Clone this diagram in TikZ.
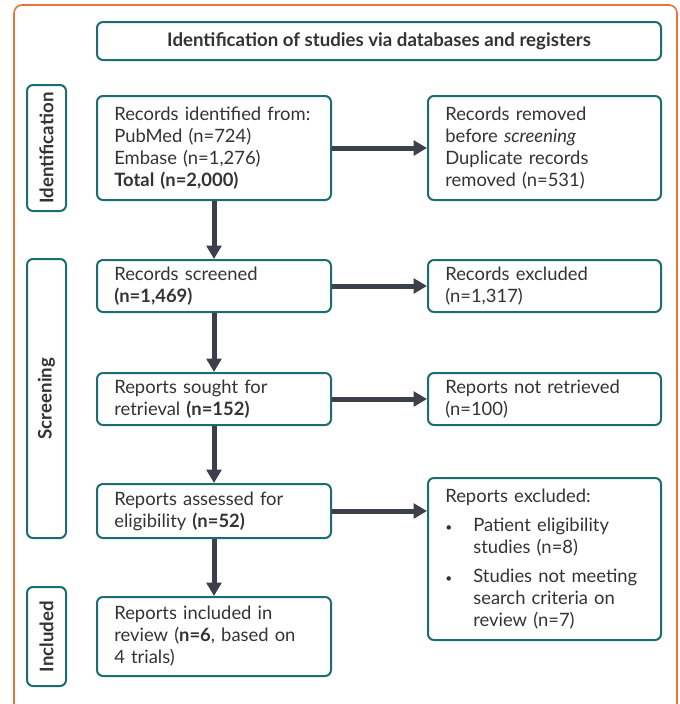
\documentclass[tikz,border=0pt]{standalone}
\usepackage{fontspec}
\setmainfont{Lato}
\usetikzlibrary{arrows.meta}
\definecolor{teal}{HTML}{1B6D72}
\definecolor{frame}{HTML}{E8743B}
\definecolor{ink}{HTML}{333333}
\definecolor{arrowgray}{HTML}{3B404B}
\newcommand{\bul}[1]{\par\noindent\hangindent=21pt\hangafter=1\makebox[21pt][l]{\fontsize{9}{9}\selectfont\textbullet}#1\par}

\begin{document}
\begin{tikzpicture}[x=0.75pt,y=-0.75pt]
\tikzset{boite/.style={draw=teal, line width=1.5pt, rounded corners=4.5pt, text=ink,
    font=\fontsize{13.8}{16.5}\selectfont, align=left, inner xsep=13pt},
  gauche/.style={boite, minimum width=175.5pt, text width=149.5pt},
  droite/.style={boite, minimum width=174.75pt, text width=148.75pt},
  phase/.style={draw=teal, line width=1.5pt, rounded corners=4.5pt, text=ink,
    font=\fontsize{14}{16}\selectfont\bfseries, rotate=90, minimum height=29.25pt, inner sep=0pt},
  fleche/.style={draw=arrowgray, line width=3.75pt, -{Triangle[width=11pt,length=10pt]}}}
\clip (0,0) rectangle (679,704);
\draw[frame, line width=1.2pt, rounded corners=6pt] (14,5) rectangle (677,730);
\node[boite, minimum width=423pt, minimum height=28.5pt, align=center, font=\fontsize{14}{16}\selectfont\bfseries] (T) at (379,41) {Identification of studies via databases and registers};
\node[phase, minimum width=94.5pt] (P1) at (46.5,148) {Identification};
\node[phase, minimum width=209.25pt] (P2) at (46.5,398.5) {Screening};
\node[phase, minimum width=74.25pt] (P3) at (46.5,636.5) {Included};
\node[gauche, minimum height=78pt] (G1) at (214,148) {Records identified from:\\PubMed (n=724)\\Embase (n=1,276)\\\textbf{Total (n=2,000)}};
\node[gauche, minimum height=39pt] (G2) at (214,286) {Records screened\\\textbf{(n=1,469)}};
\node[gauche, minimum height=39pt] (G3) at (214,399) {Reports sought for\\retrieval \textbf{(n=152)}};
\node[gauche, minimum height=40.5pt] (G4) at (214,511) {Reports assessed for\\eligibility \textbf{(n=52)}};
\node[gauche, minimum height=59.25pt] (G5) at (214,636.5) {Reports included in\\review (\textbf{n=6}, based on\\4 trials)};
\node[droite, minimum height=78pt] (D1) at (544.5,148) {Records removed\\before \textit{screening}\\Duplicate records\\removed (n=531)};
\node[droite, minimum height=39pt] (D2) at (544.5,286) {Records excluded\\(n=1,317)};
\node[droite, minimum height=39pt] (D3) at (544.5,399) {Reports not retrieved\\(n=100)};
\node[droite, minimum height=121.5pt] (D4) at (544.5,559) {Reports excluded:\par\vspace{5pt}
  \bul{Patient eligibility\newline studies (n=8)}\vspace{5pt}
  \bul{Studies not meeting\newline search criteria on\newline review (n=7)}};
\draw[fleche] (G1) -- (G2);
\draw[fleche] (G2) -- (G3);
\draw[fleche] (G3) -- (G4);
\draw[fleche] (G4) -- (G5);
\draw[fleche] (G1) -- (D1);
\draw[fleche] (G2) -- (D2);
\draw[fleche] (G3) -- (D3);
\draw[fleche] (G4.east) -- (D4.west |- G4.east);
\end{tikzpicture}
\end{document}
